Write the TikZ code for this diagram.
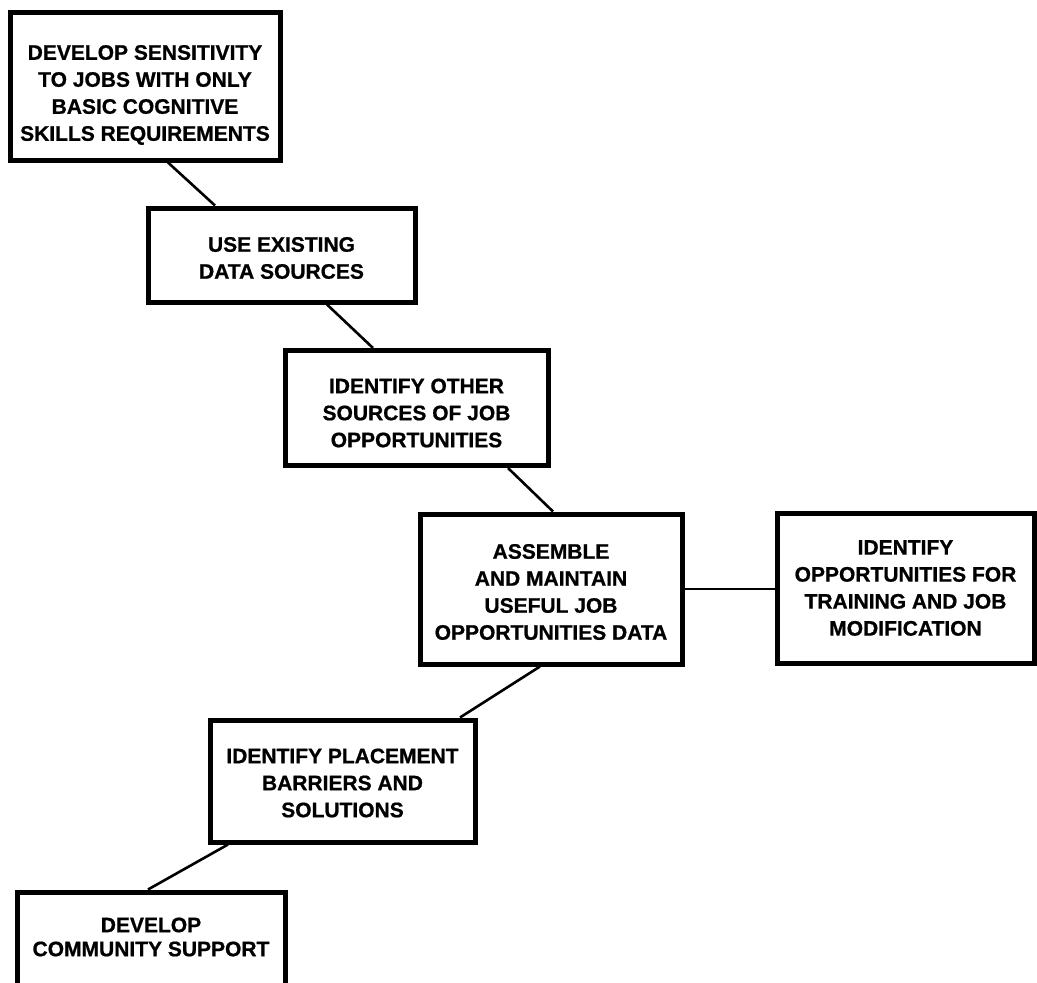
\documentclass[tikz,border=0pt]{standalone}
\usepackage{fontspec}
\setmainfont[FakeBold=0.8]{Liberation Sans}
\begin{document}
\begin{tikzpicture}[x=1pt,y=-1pt,
  box/.style={draw=black, line width=5pt, fill=white, rectangle, inner sep=0pt},
  boxtext/.style={inner sep=0pt, align=center, font=\fontsize{21}{27}\selectfont\bfseries},
  link/.style={draw=black, line width=2.6pt}]
\useasboundingbox (0,0) rectangle (1037,983);
\clip (0,0) rectangle (1037,983);
\fill[white] (0,0) rectangle (1037,983);

\node[box, minimum width=270pt, minimum height=148pt] (b1) at (145,86) {};
\node[boxtext] (t1) at ([yshift=-9pt]b1.center)
  {DEVELOP SENSITIVITY\\TO JOBS WITH ONLY\\BASIC COGNITIVE\\SKILLS REQUIREMENTS};
\node[box, minimum width=267pt, minimum height=94pt] (b2) at (281.5,255) {};
\node[boxtext] (t2) at ([yshift=-3pt]b2.center)
  {USE EXISTING\\DATA SOURCES};
\node[box, minimum width=263pt, minimum height=115pt] (b3) at (416.5,408) {};
\node[boxtext] (t3) at ([yshift=-5pt]b3.center)
  {IDENTIFY OTHER\\SOURCES OF JOB\\OPPORTUNITIES};
\node[box, minimum width=262pt, minimum height=150pt] (b4) at (551,589) {};
\node[boxtext] (t4) at ([yshift=-3pt]b4.center)
  {ASSEMBLE\\AND MAINTAIN\\USEFUL JOB\\OPPORTUNITIES DATA};
\node[box, minimum width=257pt, minimum height=150pt] (b5) at (905.5,588) {};
\node[boxtext] (t5) at (b5.center)
  {IDENTIFY\\OPPORTUNITIES FOR\\TRAINING AND JOB\\MODIFICATION};
\node[box, minimum width=265pt, minimum height=122pt] (b6) at (342.5,781) {};
\node[boxtext] (t6) at ([yshift=-2pt]b6.center)
  {IDENTIFY PLACEMENT\\BARRIERS AND\\SOLUTIONS};
\node[box, minimum width=268pt, minimum height=96pt] (b7) at (151,940) {};
\node[boxtext, font=\fontsize{21}{24}\selectfont\bfseries] (t7) at ([yshift=3pt]b7.center)
  {DEVELOP\\COMMUNITY SUPPORT};

\draw[link] ([xshift=23pt]b1.south) -- ([xshift=-66.5pt]b2.north);
\draw[link] ([xshift=45.5pt]b2.south) -- ([xshift=-43.5pt]b3.north);
\draw[link] ([xshift=91.5pt]b3.south) -- ([xshift=2pt]b4.north);
\draw[link] (b4.east) -- (b4.east -| b5.west);
\draw[link] ([xshift=-11pt]b4.south) -- ([xshift=117.5pt]b6.north);
\draw[link] ([xshift=-114.5pt]b6.south) -- ([xshift=-3pt]b7.north);
\end{tikzpicture}
\end{document}
